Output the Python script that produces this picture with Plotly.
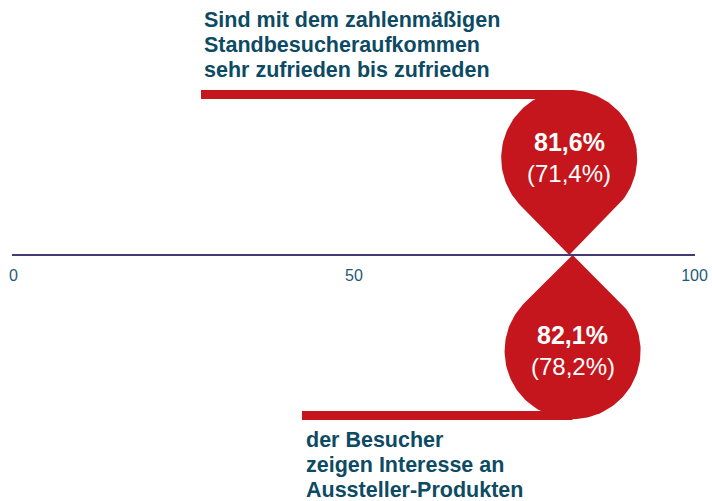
import numpy as np
import plotly.graph_objects as go

# ---- data ----
values = [81.6, 82.1]
prev_values = [71.4, 78.2]
value_labels = ["81,6%", "82,1%"]
prev_labels = ["(71,4%)", "(78,2%)"]
captions = [
    ["Sind mit dem zahlenmäßigen", "Standbesucheraufkommen", "sehr zufrieden bis zufrieden"],
    ["der Besucher", "zeigen Interesse an", "Aussteller-Produkten"],
]
tick_vals = [0, 50, 100]
tick_text = ["0", "50", "100"]

# ---- style ----
RED = "#c4161c"
AXIS = "#463a72"
TEXT = "#0d4a63"
TICK = "#1d5a78"
FONT = "Arial, Liberation Sans, sans-serif"

W, H = 712, 501
ML, MR = 12, 17
PX_PER_UNIT = 6.81
X0 = -(13.5 - ML) / PX_PER_UNIT
X1 = X0 + (W - ML - MR) / PX_PER_UNIT
AXIS_Y = 255  # pixel y of axis line

def px2x(p):
    return X0 + (p - ML) / PX_PER_UNIT

R_PX = 68
drops = [  # direction: +1 drop above axis (tip pointing down), -1 below
    dict(dir=+1, cy=158, bar_left=201, bar_y=(90, 99), cap_y=[20, 45, 70], cap_left=202,
         lab_y=(142, 173)),
    dict(dir=-1, cy=351, bar_left=302, bar_y=(411, 420), cap_y=[440, 465, 490], cap_left=304,
         lab_y=(335, 366)),
]

fig = go.Figure()
shapes = []
annotations = []
for i, d in enumerate(drops):
    cx = values[i]
    cy = d["cy"]
    dist = abs(AXIS_Y - cy)
    th = np.arccos(R_PX / dist)
    phi = np.linspace(th, 2 * np.pi - th, 120)
    rx = R_PX / PX_PER_UNIT
    xs = np.concatenate([[cx], cx + rx * np.sin(phi), [cx]])
    ys = np.concatenate([[AXIS_Y], cy + d["dir"] * R_PX * np.cos(phi), [AXIS_Y]])
    # bar
    shapes.append(dict(type="rect", xref="x", yref="y", x0=px2x(d["bar_left"]), x1=cx,
                       y0=d["bar_y"][0], y1=d["bar_y"][1], fillcolor=RED, line=dict(width=0),
                       layer="below"))
    fig.add_trace(go.Scatter(x=xs, y=ys, mode="lines", fill="toself", fillcolor=RED,
                             line=dict(width=0, color=RED), hoverinfo="skip", showlegend=False))
    annotations.append(dict(x=cx, y=d["lab_y"][0], xref="x", yref="y", text="<b>%s</b>" % value_labels[i],
                            showarrow=False, font=dict(family=FONT, size=25, color="white"),
                            xanchor="center", yanchor="middle"))
    annotations.append(dict(x=cx, y=d["lab_y"][1], xref="x", yref="y", text=prev_labels[i],
                            showarrow=False, font=dict(family=FONT, size=24, color="white"),
                            xanchor="center", yanchor="middle"))
    for j, line in enumerate(captions[i]):
        annotations.append(dict(x=px2x(d["cap_left"]), y=d["cap_y"][j], xref="x", yref="y",
                                text="<b>%s</b>" % line, showarrow=False,
                                font=dict(family=FONT, size=21.5, color=TEXT),
                                xanchor="left", yanchor="middle"))

fig.update_layout(
    width=W, height=H,
    margin=dict(l=ML, r=MR, t=0, b=0),
    paper_bgcolor="white", plot_bgcolor="white",
    shapes=shapes, annotations=annotations,
    xaxis=dict(range=[X0, X1], anchor="free", position=1 - AXIS_Y / H,
               showline=True, linecolor=AXIS, linewidth=2, showgrid=False, zeroline=False,
               tickvals=tick_vals, ticktext=tick_text, ticks="outside", ticklen=6,
               tickcolor="rgba(0,0,0,0)", tickfont=dict(family=FONT, size=16, color=TICK)),
    yaxis=dict(range=[H, 0], visible=False, showgrid=False, zeroline=False),
    showlegend=False,
)

fig.write_html("out.html", config={"displayModeBar": False},
               post_script="document.body.style.margin='0';document.body.style.overflow='hidden';")
